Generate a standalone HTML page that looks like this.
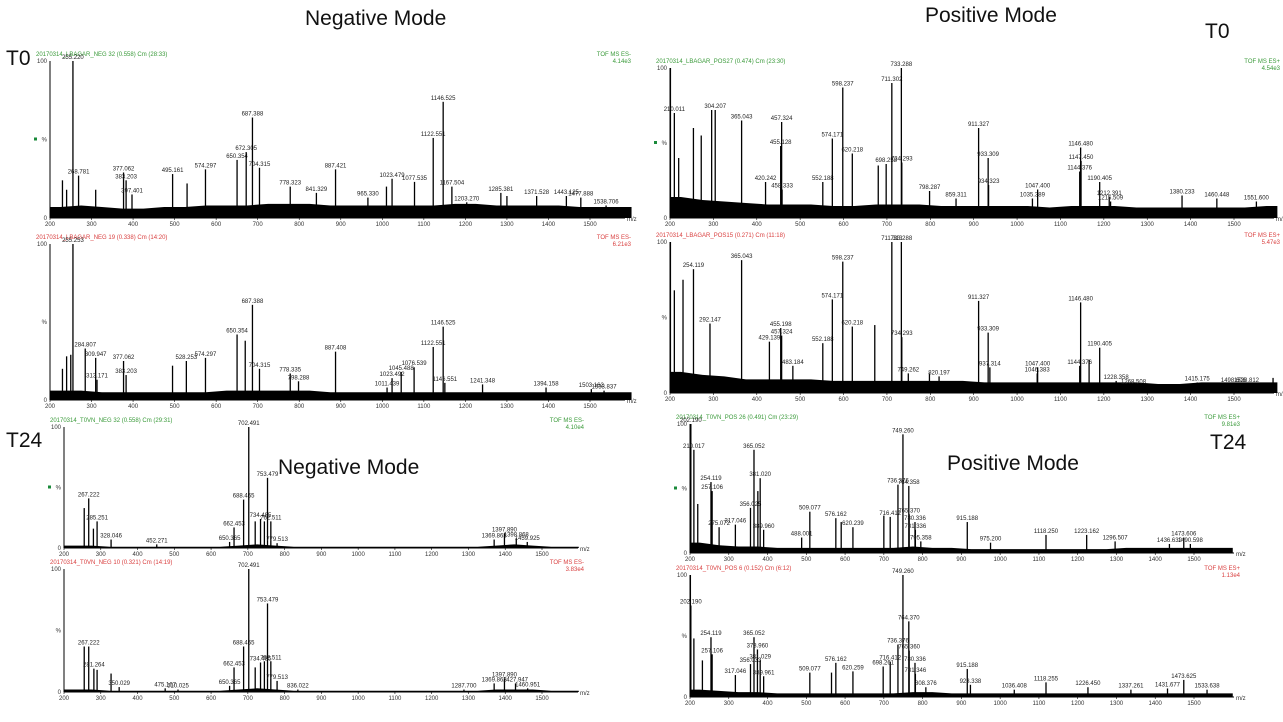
<!DOCTYPE html>
<html><head><meta charset="utf-8"><style>
body{margin:0;background:#fff;width:1283px;height:722px;overflow:hidden}
svg{display:block;font-family:"Liberation Sans",sans-serif}
.big{font-size:21px;fill:#111}
.pk{font-size:6px;fill:#222}
.tk{font-size:6px;fill:#333}
</style></head><body>
<svg id="s" width="1283" height="722" viewBox="0 0 1283 722">
<text class="big" x="305" y="25">Negative Mode</text>
<text class="big" x="925" y="22">Positive Mode</text>
<text class="big" x="6" y="65">T0</text>
<text class="big" x="1205" y="38">T0</text>
<text class="big" x="6" y="447">T24</text>
<text class="big" x="278" y="474">Negative Mode</text>
<text class="big" x="947" y="470">Positive Mode</text>
<text class="big" x="1210" y="449">T24</text>
</svg>
<script>
const mzA=[230,240,255.22,268.781,310,377.062,383.203,397.401,495.161,530,574.297,650.354,672.305,687.388,704.315,778.323,841.329,887.421,965.33,1010,1023.479,1077.535,1122.551,1146.525,1167.504,1203.27,1285.381,1300,1371.528,1443.125,1477.888,1538.706];
const inA=[24,18,100,27,18,29,24,15,28,22,31,37,42,64,32,20,16,31,13,20,25,23,51,74,20,10,16,14,14,14,13,8];
const lbA=["","","255.220","268.781","","377.062","383.203","397.401","495.161","","574.297","650.354","672.305","687.388","704.315","778.323","841.329","887.421","965.330","","1023.479","1077.535","1122.551","1146.525","1167.504","1203.270","1285.381","","1371.528","1443.125","1477.888","1538.706"];
const blA=[7,8,7,6,6,7,7,8,8,8,9,9,9,8,8,8,8,8,8,9,9,8,8,8,8,7,7,7];

const mzB=[230,240,250,255.253,284.807,309.947,313.171,377.062,383.203,495,528.253,574.297,650.354,670,687.388,704.315,778.335,798.288,887.408,1011.439,1023.492,1045.488,1076.539,1122.551,1146.525,1150.551,1241.348,1394.158,1503.162,1533.837];
const inB=[20,28,29,100,33,27,13,25,16,22,25,27,42,38,61,20,17,12,31,8,14,18,21,34,47,11,10,8,7,6];
const lbB=["","","","255.253","284.807","309.947","313.171","377.062","383.203","","528.253","574.297","650.354","","687.388","704.315","778.335","798.288","887.408","1011.439","1023.492","1045.488","1076.539","1122.551","1146.525","1146.551","1241.348","1394.158","1503.162","1533.837"];
const blB=[6,6,5,5,5,5,5,5,6,6,6,6,6,5,5,5,5,5,5,5,5,5,5,5,5,5,5,5];

const mzC=[255,267.222,280,290,328.046,452.271,650.365,662.453,688.465,702.491,720,734.485,745,753.479,762.511,779.513,1369.863,1397.89,1430,1459.925];
const inC=[33,41,16,22,7,3,5,17,40,100,22,24,22,58,22,4,7,12,8,5];
const lbC=["","267.222","","285.251","328.046","452.271","650.365","662.453","688.465","702.491","","734.485","","753.479","762.511","779.513","1369.863","1397.890","1398.868","1459.925"];
const blC=[2,2,1,1,1,1,1,1,1,2,3,2,1,1,1,1,1,1,1,1,1,1,1,2,3,2,1,1];

const mzD=[255,267.222,281.264,290,328,350.029,475.167,510.025,650.365,662.453,688.465,702.491,720,734.485,745,753.479,762.511,779.513,836.022,1287.7,1369.863,1397.89,1427.947,1460.951];
const inD=[37,37,19,18,15,4,3,2,5,20,37,100,20,24,25,72,25,9,2,2,7,11,7,3];
const lbD=["","267.222","281.264","","","350.029","475.167","510.025","650.365","662.453","688.465","702.491","","734.485","","753.479","762.511","779.513","836.022","1287.700","1369.863","1397.890","1427.947","1460.951"];
const blD=[2,2,1,1,1,1,1,1,1,2,3,2,1,1,1,1,1,1,1,1,1,1,1,2,2,2,1,1];

const mzE=[201,210.011,220,254,272,296,304.207,365.043,420.242,455.128,457.324,458.333,552.188,574.171,598.237,620.218,680,698.258,711.302,733.288,734.293,798.287,859.311,911.327,933.309,934.323,1035.389,1047.4,1144.376,1146.48,1147.45,1190.405,1212.391,1215.509,1380.233,1460.448,1551.6];
const inE=[100,70,40,60,55,72,72,65,24,48,64,19,24,53,87,43,35,36,90,100,37,18,13,60,40,22,13,19,31,47,38,24,14,11,15,13,11];
const lbE=["","210.011","","","","","304.207","365.043","420.242","455.128","457.324","458.333","552.188","574.171","598.237","620.218","","698.258","711.302","733.288","734.293","798.287","859.311","911.327","933.309","934.323","1035.389","1047.400","1144.376","1146.480","1147.450","1190.405","1212.391","1215.509","1380.233","1460.448","1551.600"];
const blE=[14,12,11,10,9,9,9,8,8,9,9,9,8,8,8,8,8,7,8,8,8,7,7,7,7,7,7,8];

const mzF=[201,210,230,254.119,292.147,365.043,429.139,455.198,457.324,483.184,552.188,574.171,598.237,620.218,672,711.313,733.288,734.293,749.262,798,820.197,911.327,933.309,937.314,1046.383,1047.4,1144.376,1146.48,1166,1190.405,1228.358,1268.508,1415.175,1498.606,1528.812,1590];
const inF=[100,68,75,82,46,88,34,43,38,18,33,62,87,44,45,100,100,37,13,13,11,61,40,17,13,17,18,60,22,30,8,5,7,6,6,10];
const lbF=["","","","254.119","292.147","365.043","429.139","455.198","457.324","483.184","552.188","574.171","598.237","620.218","","711.313","733.288","734.293","749.262","","820.197","911.327","933.309","937.314","1046.383","1047.400","1144.376","1146.480","","1190.405","1228.358","1268.508","1415.175","1498.606","1528.812",""];
const blF=[14,12,11,9,9,9,9,8,8,8,8,8,8,8,7,7,7,7,7,7,7,7,6,6,7,7,7,7];

const mzG=[202.19,210.017,220,254.119,257.106,275.072,317.046,356.025,365.052,375,381.02,389.96,488.001,509.077,576.162,590,620.239,700,716.412,736.376,749.26,764.358,765.37,780.336,781.336,795.358,915.188,975.2,1118.25,1223.162,1296.507,1436.632,1473.606,1490.598];
const inG=[100,80,38,55,48,20,22,35,80,48,58,18,12,32,27,24,20,29,28,53,92,52,30,24,18,9,24,8,14,14,9,7,12,7];
const lbG=["202.190","210.017","","254.119","257.106","275.072","317.046","356.025","365.052","","381.020","389.960","488.001","509.077","576.162","","620.239","","716.412","736.376","749.260","764.358","765.370","780.336","781.336","795.358","915.188","975.200","1118.250","1223.162","1296.507","1436.632","1473.606","1490.598"];
const blG=[8,6,5,5,4,4,4,4,4,4,4,5,4,4,3,3,3,3,3,3,3,3,4,4,4,4,4,4];

const mzH=[201,202.19,210,232,254.119,257.106,317.046,356.033,365.052,373.96,381.029,389.961,509.077,565,576.162,620.259,698.261,716.412,736.376,749.26,764.37,765.36,780.336,781.346,808.376,915.188,923.338,1036.408,1118.255,1226.45,1337.261,1431.677,1473.625,1533.638];
const inH=[100,75,48,30,49,35,18,27,49,39,30,17,20,20,28,21,25,29,43,100,62,38,28,19,8,23,10,6,12,8,6,7,14,6];
const lbH=["","202.190","","","254.119","257.106","317.046","356.033","365.052","373.960","381.029","389.961","509.077","","576.162","620.259","698.261","716.412","736.376","749.260","764.370","765.360","780.336","781.346","808.376","915.188","923.338","1036.408","1118.255","1226.450","1337.261","1431.677","1473.625","1533.638"];
const blH=[6,5,4,4,3,3,3,3,3,3,3,4,4,3,3,3,3,3,3,3,3,3,3,3,3,3,3,3];

const xTicks=[200,300,400,500,600,700,800,900,1000,1100,1200,1300,1400,1500];

const panels=[
 {id:"neg-t0-a",mz:mzA,it:inA,lb:lbA,bl:blA,x0:50,x1:590,xe:625,top:61,base:218,hdr:"20170314_LBAGAR_NEG 32 (0.558) Cm (28:33)",mode:"TOF MS ES-",sc:"4.14e3",col:"#3a9a3a",mark:true},
 {id:"neg-t0-b",mz:mzB,it:inB,lb:lbB,bl:blB,x0:50,x1:590,xe:625,top:244,base:400,hdr:"20170314_LBAGAR_NEG 19 (0.338) Cm (14:20)",mode:"TOF MS ES-",sc:"6.21e3",col:"#d94040",mark:false},
 {id:"neg-t24-a",mz:mzC,it:inC,lb:lbC,bl:blC,x0:64,x1:542,xe:578,top:427,base:548,hdr:"20170314_T0VN_NEG 32 (0.558) Cm (29:31)",mode:"TOF MS ES-",sc:"4.10e4",col:"#3a9a3a",mark:true},
 {id:"neg-t24-b",mz:mzD,it:inD,lb:lbD,bl:blD,x0:64,x1:542,xe:578,top:569,base:692,hdr:"20170314_T0VN_NEG 10 (0.321) Cm (14:19)",mode:"TOF MS ES-",sc:"3.83e4",col:"#d94040",mark:false},
 {id:"pos-t0-a",mz:mzE,it:inE,lb:lbE,bl:blE,x0:670,x1:1234,xe:1274,top:68,base:218,hdr:"20170314_LBAGAR_POS27 (0.474) Cm (23:30)",mode:"TOF MS ES+",sc:"4.54e3",col:"#3a9a3a",mark:true},
 {id:"pos-t0-b",mz:mzF,it:inF,lb:lbF,bl:blF,x0:670,x1:1234,xe:1274,top:242,base:393,hdr:"20170314_LBAGAR_POS15 (0.271) Cm (11:18)",mode:"TOF MS ES+",sc:"5.47e3",col:"#d94040",mark:false},
 {id:"pos-t24-a",mz:mzG,it:inG,lb:lbG,bl:blG,x0:690,x1:1194,xe:1234,top:424,base:553,hdr:"20170314_T0VN_POS 26 (0.491) Cm (23:29)",mode:"TOF MS ES+",sc:"9.81e3",col:"#3a9a3a",mark:true},
 {id:"pos-t24-b",mz:mzH,it:inH,lb:lbH,bl:blH,x0:690,x1:1194,xe:1234,top:575,base:697,hdr:"20170314_T0VN_POS 6 (0.152) Cm (6:12)",mode:"TOF MS ES+",sc:"1.13e4",col:"#d94040",mark:false}
];
const NS="http://www.w3.org/2000/svg";
const svg=document.getElementById('s');
function mk(tag,attrs,parent){const e=document.createElementNS(NS,tag);for(const k in attrs)e.setAttribute(k,attrs[k]);(parent||svg).appendChild(e);return e;}
panels.forEach(p=>{
 const g=mk('g',{});
 
 
 const xs=m=>p.x0+(m-200)*(p.x1-p.x0)/1300;
 const ys=v=>p.base-v/100*(p.base-p.top);
 const h=mk('text',{x:p.x0-14,y:p.top-5,'font-size':6,fill:p.col},g);h.textContent=p.hdr;
 
 
 const m1=mk('text',{x:p.xe+6,y:p.top-5,'font-size':6,fill:p.col,'text-anchor':'end'},g);m1.textContent=p.mode;
 
 
 const m2=mk('text',{x:p.xe+6,y:p.top+2,'font-size':6,fill:p.col,'text-anchor':'end'},g);m2.textContent=p.sc;
 
 
 mk('line',{x1:p.x0,y1:p.top,x2:p.x0,y2:p.base,stroke:'#000','stroke-width':1},g);
 mk('line',{x1:p.x0,y1:p.base,x2:p.xe,y2:p.base,stroke:'#000','stroke-width':1},g);
 [[100,"100"],[50,"%"],[0,"0"]].forEach(t=>{const e=mk('text',{x:p.x0-3,y:ys(t[0])+2,'text-anchor':'end',class:'tk'},g);e.textContent=t[1];
  
  });
 if(p.mark){const r=mk('rect',{x:p.x0-16,y:ys(50)-2,width:3,height:3,fill:'#1a8a3a'},g);
  
  }
 xTicks.forEach(t=>{const e=mk('text',{x:xs(t),y:p.base+8,'text-anchor':'middle',class:'tk'},g);e.textContent=t;
  
  
  mk('line',{x1:xs(t),y1:p.base,x2:xs(t),y2:p.base+2,stroke:'#000','stroke-width':0.6},g);});
 const mzl=mk('text',{x:p.xe+2,y:p.base+3,class:'tk'},g);mzl.textContent='m/z';
 
 
 // baseline noise band (smooth through bin centres)
 let d='M'+xs(200)+','+p.base+' L'+xs(200)+','+ys(p.bl[0]);
 p.bl.forEach((v,i)=>{d+=' L'+xs(225+i*50)+','+ys(v);});
 d+=' L'+xs(1600)+','+ys(p.bl[p.bl.length-1])+' L'+xs(1600)+','+p.base+' Z';
 const band=mk('path',{d:d,fill:'#000'},g);
 
 
 p.mz.forEach((m,i)=>{
  const x=xs(m),y=ys(p.it[i]);
  const l=mk('line',{x1:x,y1:p.base,x2:x,y2:y,stroke:'#000','stroke-width':1.3},g);
  
  
  if(p.lb[i]){const t=mk('text',{x:x,y:y-2,'text-anchor':'middle',class:'pk'},g);t.textContent=p.lb[i];
   
   }
 });
});
</script>
</body></html>
